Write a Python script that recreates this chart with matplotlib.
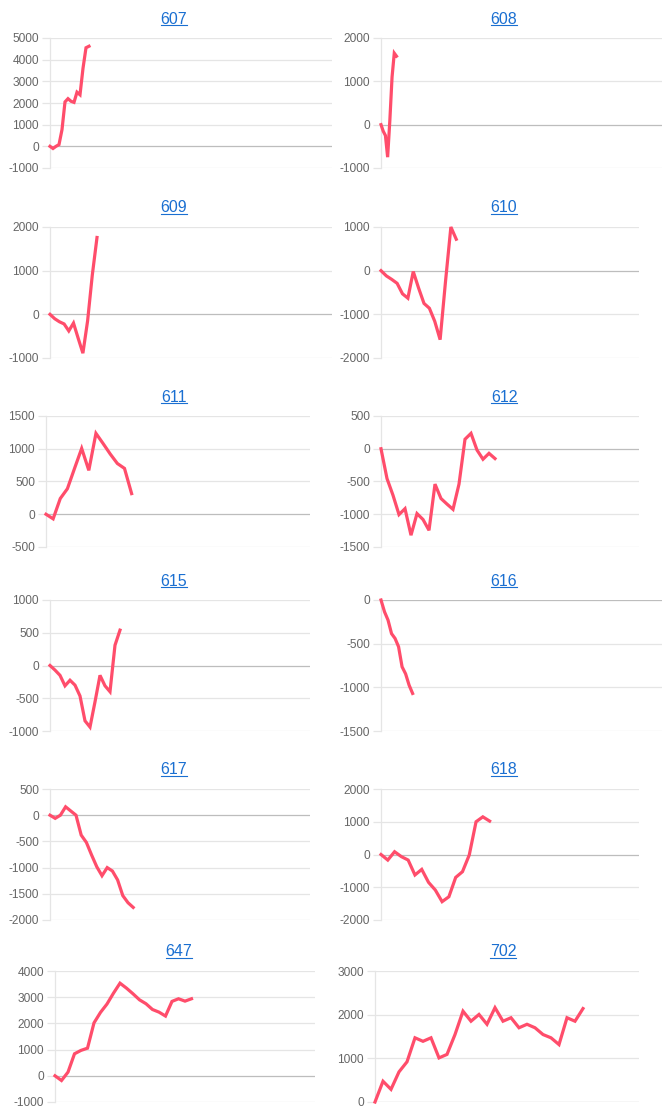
import matplotlib.pyplot as plt
import numpy as np

plt.rcParams["font.family"] = ["Liberation Sans", "DejaVu Sans"]
plt.rcParams["axes.unicode_minus"] = False

# values, one list per small chart
s607 = [0, -100, 0, 80, 770, 2050, 2200, 2080, 2030, 2500, 2380, 3600, 4550, 4620]
s608 = [0, -150, -250, -750, 100, 1100, 1650, 1580]
s609 = [0, -100, -170, -220, -380, -200, -550, -890, -150, 900, 1760]
s610 = [0, -120, -200, -290, -530, -630, -20, -400, -750, -860, -1160, -1580,
        -250, 1000, 720]
s611 = [0, -70, 240, 390, 700, 1005, 670, 1235, 1080, 920, 775, 700, 315]
s612 = [0, -455, -710, -1005, -915, -1320, -990, -1080, -1245, -540, -760,
        -845, -925, -540, 145, 235, -20, -160, -70, -150]
s615 = [0, -70, -150, -310, -225, -300, -465, -845, -940, -555, -150, -310,
        -400, 310, 540]
s616 = [0, -135, -230, -385, -440, -535, -765, -845, -975, -1070]
s617 = [0, -60, 0, 160, 80, 0, -380, -520, -760, -985, -1155, -1000, -1065,
        -1235, -1535, -1670, -1760]
s618 = [0, -170, 85, -65, -170, -625, -455, -850, -1085, -1440, -1290, -700,
        -525, -15, 1000, 1150, 1020]
s647 = [0, -180, 140, 840, 970, 1055, 2020, 2420, 2740, 3155, 3535, 3345, 3130,
        2900, 2750, 2530, 2430, 2280, 2840, 2940, 2850, 2940]
s702 = [0, 475, 290, 690, 920, 1470, 1390, 1470, 1010, 1090, 1545, 2080, 1850,
        2005, 1780, 2160, 1850, 1930, 1700, 1780, 1700, 1545, 1470, 1315, 1930,
        1850, 2140]

titles = ["607", "608", "609", "610", "611", "612",
          "615", "616", "617", "618", "647", "702"]
series = [s607, s608, s609, s610, s611, s612,
          s615, s616, s617, s618, s647, s702]
# number of x labels on each chart's category axis
n_labels = [95, 128, 61, 49, 38, 44, 53, 81, 51, 39, 41, 34]
yticks = [
    [-1000, 0, 1000, 2000, 3000, 4000, 5000],
    [-1000, 0, 1000, 2000],
    [-1000, 0, 1000, 2000],
    [-2000, -1000, 0, 1000],
    [-500, 0, 500, 1000, 1500],
    [-1500, -1000, -500, 0, 500],
    [-1000, -500, 0, 500, 1000],
    [-1500, -1000, -500, 0],
    [-2000, -1500, -1000, -500, 0, 500],
    [-2000, -1000, 0, 1000, 2000],
    [-1000, 0, 1000, 2000, 3000, 4000],
    [0, 1000, 2000, 3000],
]

# plot boxes in pixels: left, right, top, bottom; and title centre x
boxes = [
    (50, 332, 38, 168), (381, 662, 38, 168),
    (50, 332, 227, 358), (381, 639, 227, 358),
    (46, 310, 416, 547), (381, 639, 416, 547),
    (50, 310, 600, 731), (381, 662, 600, 731),
    (50, 310, 789, 920), (381, 639, 789, 920),
    (55, 315, 971, 1102), (375, 639, 971, 1102),
]
title_x = [174, 504, 174, 504, 174, 504, 174, 504, 174, 504, 179, 503]

W, H = 666, 1120
LINE = "#ff4d6b"
GRID = "#e5e5e5"
ZERO = "#bdbdbd"
LINK = "#1a6fd1"

fig = plt.figure(figsize=(W / 100, H / 100), dpi=100)

title_objs = []
for i, vals in enumerate(series):
    l, r, t, b = boxes[i]
    ax = fig.add_axes([l / W, 1 - b / H, (r - l) / W, (b - t) / H])
    x = np.arange(len(vals))
    ax.plot(x, vals, color=LINE, lw=2.3, solid_joinstyle="miter", zorder=3,
            clip_on=False)
    ax.set_xlim(0, n_labels[i] - 1)
    ax.set_ylim(yticks[i][0], yticks[i][-1])
    ax.set_yticks(yticks[i])
    ax.set_xticks([])
    for v in yticks[i]:
        ax.axhline(v, color=ZERO if v == 0 else GRID, lw=0.9, zorder=1)
    for side in ["top", "right", "bottom"]:
        ax.spines[side].set_visible(False)
    ax.spines["left"].set_color(GRID)
    ax.spines["left"].set_linewidth(0.9)
    ax.tick_params(axis="y", length=6, width=0.9, color=GRID, pad=2,
                   labelsize=8.6, labelcolor="#666666")
    ty = t - 19
    txt = fig.text(title_x[i] / W, 1 - ty / H, titles[i], ha="center",
                   va="center", fontsize=11.5, color=LINK)
    title_objs.append(txt)

# underline the titles like links
fig.canvas.draw()
renderer = fig.canvas.get_renderer()
for txt in title_objs:
    bb = txt.get_window_extent(renderer)
    yy = bb.y0 + 1.5
    fig.add_artist(plt.Line2D([bb.x0 / W, bb.x1 / W], [yy / H, yy / H],
                              color=LINK, lw=0.8))

fig.savefig("out.png", dpi=100)
